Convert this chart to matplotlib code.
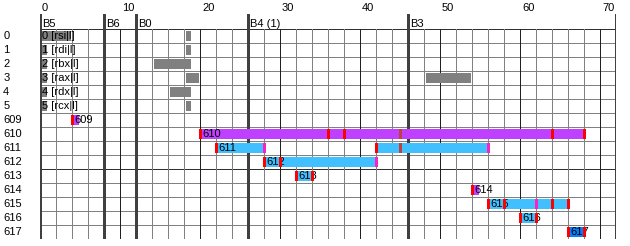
import matplotlib
matplotlib.use("Agg")
from matplotlib import pyplot as plt

plt.rcParams['font.family'] = ['Liberation Sans', 'DejaVu Sans']

# blocks along the top
block_starts = [0, 8, 12, 26, 46]
block_names = ['B5', 'B6', 'B0', 'B4 (1)', 'B3']
block_end = 72

# row names (fixed registers, then virtual registers)
row_names = ['0', '1', '2', '3', '4', '5',
             '609', '610', '611', '612', '613', '614', '615', '616', '617']

# fixed register intervals (rows 0-5)
fixed_labels = ['0 [rsi|l]', '1 [rdi|l]', '2 [rbx|l]', '3 [rax|l]', '4 [rdx|l]', '5 [rcx|l]']
fixed_starts = [[0, 18], [0, 18], [0, 14], [0, 18, 48], [0, 16], [0, 18]]
fixed_ends = [[4, 19], [1, 19], [1, 19], [1, 20, 54], [1, 19], [1, 19]]

# virtual register intervals (rows 609-617)
vr_labels = ['609', '610', '611', '612', '613', '614', '615', '616', '617']
vr_starts = [[4], [20], [22, 42], [28], [32], [54], [56], [60], [66]]
vr_ends = [[5], [68], [28, 56], [42], [34], [55], [66], [62], [68]]
vr_colors = ['#c040ff', '#c040ff', '#40c0ff', '#40c0ff', '#40c0ff',
             '#c040ff', '#40c0ff', '#40c0ff', '#0080ff']
vr_uses = [[4], [20, 36, 38, 64, 68], [22, 42], [28, 30], [32, 34],
           [54], [56, 58, 64, 66], [60, 62], [66, 68]]
vr_ends_marks = [[], [], [28, 56], [42], [], [], [62], [], []]
vr_moves = [[], [45], [45], [], [], [], [], [], []]

W, H = 630, 246
fig = plt.figure(figsize=(W / 100, H / 100), dpi=100)
top_px, bot_px, row_h = 29, 239, 14
head = 15 / row_h
ax = fig.add_axes([40 / W, (H - bot_px) / H, 576 / W, (bot_px - 14) / H])
ax.set_xlim(0, block_end)
ax.set_ylim(len(row_names), -head)
ax.axis('off')

n = len(row_names)
px = 0.72  # one pixel in points
fs = 8

# grid
for i in range(n + 1):
    dark = i % 10 == 0 or i == n
    ax.plot([0, block_end], [i, i], color='#303030' if dark else '#808080',
            lw=px, zorder=1, solid_capstyle='butt', antialiased=False)
for x in range(0, block_end + 1, 2):
    dark = x % 10 == 0
    ax.plot([x, x], [0, n], color='#202020' if dark else '#808080',
            lw=px, zorder=1, solid_capstyle='butt', antialiased=False)
for x in block_starts + [block_end]:
    ax.plot([x, x], [-head, n], color='#404040', lw=3 * px, zorder=2,
            solid_capstyle='butt', antialiased=False)
for x, name in zip(block_starts, block_names):
    ax.text(x + 0.3, -0.17, name, fontsize=fs, ha='left', va='baseline', zorder=2)

# top scale
for t in range(0, block_end + 1, 10):
    ax.text(t + 0.25, -1.29, str(t), fontsize=fs, ha='left', va='baseline', clip_on=False)

# row names
for i, name in enumerate(row_names):
    ax.text(-4.6, i + 0.5, name, fontsize=fs, ha='left', va='center', clip_on=False)

bh = 0.72
inset_l, inset_r = 0.25, 0.125

for i, (lab, ss, es) in enumerate(zip(fixed_labels, fixed_starts, fixed_ends)):
    for s, e in zip(ss, es):
        ax.barh(i + 0.5, e - s - inset_l - inset_r, left=s + inset_l, height=bh,
                color='#808080', zorder=3, antialiased=False)
    ax.text(ss[0] + 0.25, i + 0.5, lab, fontsize=fs, ha='left', va='center', zorder=4)

for k, lab in enumerate(vr_labels):
    i = 6 + k
    for s, e in zip(vr_starts[k], vr_ends[k]):
        ax.barh(i + 0.5, e - s - 0.2 - inset_r, left=s + 0.2, height=bh,
                color=vr_colors[k], zorder=3, antialiased=False)
    ax.text(vr_starts[k][0] + 0.3, i + 0.5, lab, fontsize=fs, ha='left',
            va='center', zorder=4)
    for u in vr_uses[k]:
        ax.barh(i + 0.5, 0.33, left=u - 0.08, height=bh, color='#ff0000',
                zorder=5, antialiased=False)
    for u in vr_ends_marks[k]:
        ax.barh(i + 0.5, 0.33, left=u - 0.08, height=bh, color='#ff20c0',
                zorder=5, antialiased=False)
    for u in vr_moves[k]:
        ax.barh(i + 0.5, 0.33, left=u - 0.08, height=bh, color='#c04040',
                zorder=5, antialiased=False)

fig.savefig('out.png', dpi=100)
